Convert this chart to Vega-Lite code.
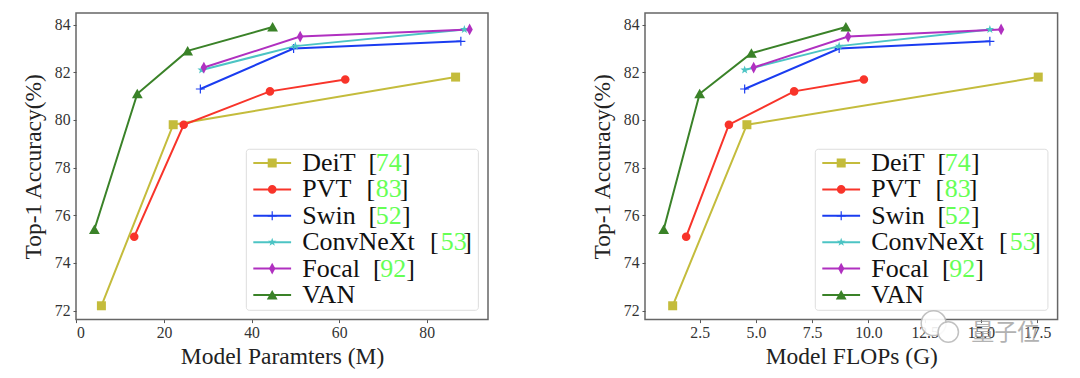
{
"$schema":"https://vega.github.io/schema/vega-lite/v6.json",
"padding":{"left":20,"top":12,"right":0,"bottom":0},
"background":"white",
"spacing":100,
"resolve":{"scale":{"stroke":"independent","shape":"independent","color":"independent"},"legend":{"stroke":"independent","shape":"independent","color":"independent"}},
"datasets":{
"params":[
{"model":"DeiT","ref":"74","x":5.7,"y":72.2},{"model":"DeiT","ref":"74","x":22.1,"y":79.8},{"model":"DeiT","ref":"74","x":86.6,"y":81.8},
{"model":"PVT","ref":"83","x":13.2,"y":75.1},{"model":"PVT","ref":"83","x":24.5,"y":79.8},{"model":"PVT","ref":"83","x":44.2,"y":81.2},{"model":"PVT","ref":"83","x":61.4,"y":81.7},
{"model":"Swin","ref":"52","x":28.3,"y":81.3},{"model":"Swin","ref":"52","x":49.6,"y":83.0},{"model":"Swin","ref":"52","x":87.8,"y":83.3},
{"model":"ConvNeXt","ref":"53","x":28.6,"y":82.1},{"model":"ConvNeXt","ref":"53","x":50,"y":83.1},{"model":"ConvNeXt","ref":"53","x":88.6,"y":83.8},
{"model":"Focal","ref":"92","x":29.1,"y":82.2},{"model":"Focal","ref":"92","x":51.1,"y":83.5},{"model":"Focal","ref":"92","x":89.8,"y":83.8},
{"model":"VAN","ref":"","x":4.1,"y":75.4},{"model":"VAN","ref":"","x":13.9,"y":81.1},{"model":"VAN","ref":"","x":25.4,"y":82.9},{"model":"VAN","ref":"","x":44.8,"y":83.9}],
"flops":[
{"model":"DeiT","ref":"74","x":1.3,"y":72.2},{"model":"DeiT","ref":"74","x":4.6,"y":79.8},{"model":"DeiT","ref":"74","x":17.55,"y":81.8},
{"model":"PVT","ref":"83","x":1.9,"y":75.1},{"model":"PVT","ref":"83","x":3.8,"y":79.8},{"model":"PVT","ref":"83","x":6.7,"y":81.2},{"model":"PVT","ref":"83","x":9.8,"y":81.7},
{"model":"Swin","ref":"52","x":4.5,"y":81.3},{"model":"Swin","ref":"52","x":8.7,"y":83.0},{"model":"Swin","ref":"52","x":15.4,"y":83.3},
{"model":"ConvNeXt","ref":"53","x":4.5,"y":82.1},{"model":"ConvNeXt","ref":"53","x":8.7,"y":83.1},{"model":"ConvNeXt","ref":"53","x":15.4,"y":83.8},
{"model":"Focal","ref":"92","x":4.9,"y":82.2},{"model":"Focal","ref":"92","x":9.1,"y":83.5},{"model":"Focal","ref":"92","x":15.9,"y":83.8},
{"model":"VAN","ref":"","x":0.9,"y":75.4},{"model":"VAN","ref":"","x":2.5,"y":81.1},{"model":"VAN","ref":"","x":4.8,"y":82.8},{"model":"VAN","ref":"","x":9.0,"y":83.9}]
},
"config":{
"view":{"stroke":"#666666","strokeWidth":1.5},
"font":"Liberation Serif",
"axis":{"grid":false,"domain":false,"tickColor":"#555555","tickSize":3,"labelFont":"Liberation Serif","labelFontSize":15.7,"labelColor":"#333333","titleFont":"Liberation Serif","titleFontWeight":"normal","titleFontSize":23.5,"titleColor":"#222222","labelPadding":3},
"legend":{"labelFont":"Liberation Serif","labelFontSize":26,"padding":0,"orient":"none","labelLimit":400}
},
"hconcat":[
{"width":412,"height":306.6,
"data":{"name":"params"},
"layer":[
{"data":{"values":[{"x":38.8,"x2":91.8,"y":78.77,"y2":72.01}]},"mark":{"type":"rect","fill":"white","stroke":"#dddddd","cornerRadius":3},
"encoding":{"x":{"field":"x","type":"quantitative"},"x2":{"field":"x2"},"y":{"field":"y","type":"quantitative"},"y2":{"field":"y2"}}},
{"mark":{"type":"line","strokeWidth":2},
"encoding":{
"x":{"field":"x","type":"quantitative","scale":{"domain":[-0.1,94],"nice":false,"zero":false},"axis":{"values":[0,20,40,60,80],"title":"Model Paramters (M)","titlePadding":4}},
"y":{"field":"y","type":"quantitative","scale":{"domain":[71.62,84.49],"nice":false,"zero":false},"axis":{"values":[72,74,76,78,80,82,84],"title":"Top-1 Accuracy(%)","titlePadding":9}},
"stroke":{"field":"model","type":"nominal","scale":{"domain":["DeiT","PVT","Swin","ConvNeXt","Focal","VAN"],"range":["#c4bc3c","#f8342a","#1a3cf0","#4cc4c4","#b030c0","#3a8228"]},
"legend":{"title":null,"orient":"none","legendX":183.2,"legendY":137,"symbolType":"M-4.2,0H4.2","symbolSize":81,"symbolStrokeWidth":2,"rowPadding":0.4,"labelOffset":17,"labelColor":"#111111","labelExpr":"datum.label=='VAN'?'VAN':datum.label+'\u00a0\u00a0'+((datum.label=='PVT'||datum.label=='ConvNeXt')?'\u200a':'')+'[\u00a0\u00a0\u00a0\u2009]'"}}
}},
{"mark":{"type":"point","filled":true,"opacity":1,"size":81},
"encoding":{
"x":{"field":"x","type":"quantitative"},
"y":{"field":"y","type":"quantitative"},
"shape":{"field":"ref","type":"nominal","scale":{"domain":["74","83","52","53","92",""],"range":["M-1,-1H1V1H-1Z","M-.95,0A.95,.95 0 1 1 .95,0A.95,.95 0 1 1 -.95,0Z","M-1,-.13H-.13V-1H.13V-.13H1V.13H.13V1H-.13V.13H-1Z","M0,-1L.235,-.324L.951,-.309L.38,.124L.588,.809L0,.4L-.588,.809L-.38,.124L-.951,-.309L-.235,-.324Z","M0,-1.3L.7,0L0,1.3L-.7,0Z","M0,-1.1L1.2,1L-1.2,1Z"]},
"legend":{"title":null,"orient":"none","legendX":183.2,"legendY":137,"symbolSize":81,"rowPadding":0.4,"labelOffset":17,"labelColor":"#66ff55","labelExpr":"'\u200b'+pad('',datum.label=='53'?21:datum.label=='92'?12:11,'\u00a0')+(datum.label=='92'?'':'\u200a')+datum.label"}},
"color":{"field":"ref","type":"nominal","scale":{"domain":["74","83","52","53","92",""],"range":["#c4bc3c","#f8342a","#1a3cf0","#4cc4c4","#b030c0","#3a8228"]},
"legend":{"title":null,"orient":"none","legendX":183.2,"legendY":137,"symbolSize":81,"rowPadding":0.4,"labelOffset":17,"labelColor":"#66ff55","labelExpr":"'\u200b'+pad('',datum.label=='53'?21:datum.label=='92'?12:11,'\u00a0')+(datum.label=='92'?'':'\u200a')+datum.label"}}
}}
]},
{"width":412.6,"height":306.6,
"data":{"name":"flops"},
"layer":[
{"data":{"values":[{"x":7.64,"x2":17.98,"y":78.77,"y2":72.01}]},"mark":{"type":"rect","fill":"white","stroke":"#dddddd","cornerRadius":3},
"encoding":{"x":{"field":"x","type":"quantitative"},"x2":{"field":"x2"},"y":{"field":"y","type":"quantitative"},"y2":{"field":"y2"}}},
{"mark":{"type":"line","strokeWidth":2},
"encoding":{
"x":{"field":"x","type":"quantitative","scale":{"domain":[0.07,18.41],"nice":false,"zero":false},"axis":{"values":[2.5,5,7.5,10,12.5,15,17.5],"format":".1f","title":"Model FLOPs (G)","titlePadding":4}},
"y":{"field":"y","type":"quantitative","scale":{"domain":[71.62,84.49],"nice":false,"zero":false},"axis":{"values":[72,74,76,78,80,82,84],"title":"Top-1 Accuracy(%)","titlePadding":9}},
"stroke":{"field":"model","type":"nominal","scale":{"domain":["DeiT","PVT","Swin","ConvNeXt","Focal","VAN"],"range":["#c4bc3c","#f8342a","#1a3cf0","#4cc4c4","#b030c0","#3a8228"]},
"legend":{"title":null,"orient":"none","legendX":183.2,"legendY":137,"symbolType":"M-4.2,0H4.2","symbolSize":81,"symbolStrokeWidth":2,"rowPadding":0.4,"labelOffset":17,"labelColor":"#111111","labelExpr":"datum.label=='VAN'?'VAN':datum.label+'\u00a0\u00a0'+((datum.label=='PVT'||datum.label=='ConvNeXt')?'\u200a':'')+'[\u00a0\u00a0\u00a0\u2009]'"}}
}},
{"mark":{"type":"point","filled":true,"opacity":1,"size":81},
"encoding":{
"x":{"field":"x","type":"quantitative"},
"y":{"field":"y","type":"quantitative"},
"shape":{"field":"ref","type":"nominal","scale":{"domain":["74","83","52","53","92",""],"range":["M-1,-1H1V1H-1Z","M-.95,0A.95,.95 0 1 1 .95,0A.95,.95 0 1 1 -.95,0Z","M-1,-.13H-.13V-1H.13V-.13H1V.13H.13V1H-.13V.13H-1Z","M0,-1L.235,-.324L.951,-.309L.38,.124L.588,.809L0,.4L-.588,.809L-.38,.124L-.951,-.309L-.235,-.324Z","M0,-1.3L.7,0L0,1.3L-.7,0Z","M0,-1.1L1.2,1L-1.2,1Z"]},
"legend":{"title":null,"orient":"none","legendX":183.2,"legendY":137,"symbolSize":81,"rowPadding":0.4,"labelOffset":17,"labelColor":"#66ff55","labelExpr":"'\u200b'+pad('',datum.label=='53'?21:datum.label=='92'?12:11,'\u00a0')+(datum.label=='92'?'':'\u200a')+datum.label"}},
"color":{"field":"ref","type":"nominal","scale":{"domain":["74","83","52","53","92",""],"range":["#c4bc3c","#f8342a","#1a3cf0","#4cc4c4","#b030c0","#3a8228"]},
"legend":{"title":null,"orient":"none","legendX":183.2,"legendY":137,"symbolSize":81,"rowPadding":0.4,"labelOffset":17,"labelColor":"#66ff55","labelExpr":"'\u200b'+pad('',datum.label=='53'?21:datum.label=='92'?12:11,'\u00a0')+(datum.label=='92'?'':'\u200a')+datum.label"}}
}},
{"data":{"values":[{"x":12.9,"y":71.47,"a":615},{"x":13.55,"y":71.1,"a":415}]},"mark":{"type":"point","filled":true,"fill":"white","stroke":"#bbbbbb","strokeWidth":1.5,"opacity":0.9,"shape":"circle"},
"encoding":{"x":{"field":"x","type":"quantitative"},"y":{"field":"y","type":"quantitative"},"size":{"field":"a","type":"quantitative","scale":null}}},
{"data":{"values":[{"x":16.1,"y":71.05,"t":"量子位"}]},"mark":{"type":"text","font":"Noto Sans CJK SC","fontSize":23,"color":"#999999","opacity":0.75},
"encoding":{"x":{"field":"x","type":"quantitative"},"y":{"field":"y","type":"quantitative"},"text":{"field":"t"}}}
]}
]}
